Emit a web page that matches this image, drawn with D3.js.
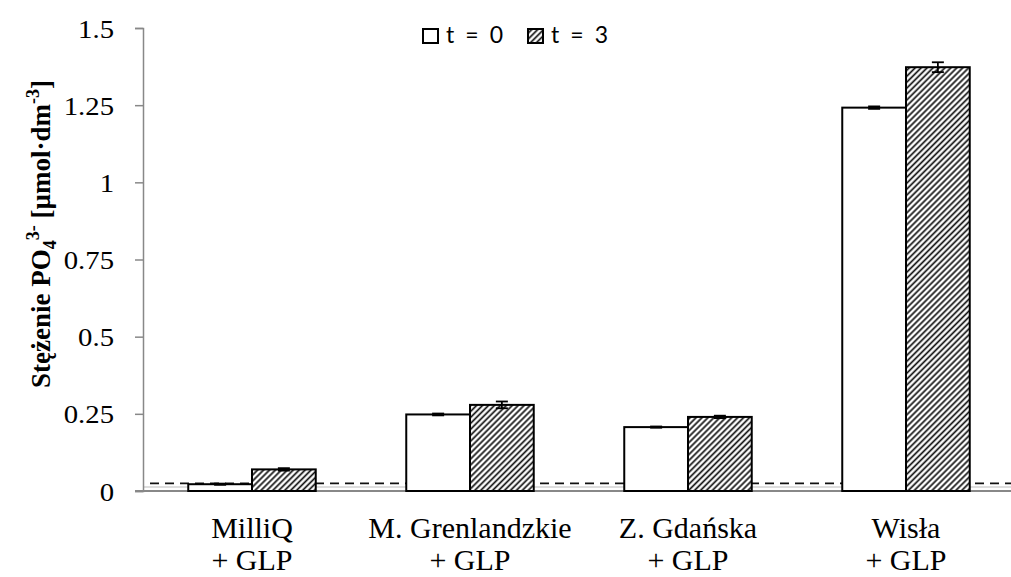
<!DOCTYPE html>
<html><head><meta charset="utf-8">
<script src="https://cdn.jsdelivr.net/npm/d3@7"></script>
<style>body{margin:0;background:#fff}svg{display:block}</style>
</head><body>
<script>
const categories = [["MilliQ","+ GLP"],["M. Grenlandzkie","+ GLP"],["Z. Gdańska","+ GLP"],["Wisła","+ GLP"]];
const seriesNames = ["t = 0","t = 3"];
const valuesT0 = [0.022, 0.248, 0.207, 1.242];
const valuesT3 = [0.070, 0.279, 0.240, 1.373];
const errT0 = [0.002, 0.003, 0.002, 0.004];
const errT3 = [0.004, 0.011, 0.004, 0.016];
const yTicks = [0, 0.25, 0.5, 0.75, 1, 1.25, 1.5];
const yTickLabels = ["0","0.25","0.5","0.75","1","1.25","1.5"];
const detectionLimit = 0.025;

const SERIF = "'Liberation Serif', 'Times New Roman', Times, serif";
const W = 1011, H = 577;
const svg = d3.select("body").append("svg").attr("width", W).attr("height", H);
const defs = svg.append("defs");
const P = 4.2;
const pat = defs.append("pattern").attr("id","hatch").attr("patternUnits","userSpaceOnUse")
  .attr("width",P).attr("height",P).attr("patternTransform","rotate(45)");
pat.append("rect").attr("width",P).attr("height",P).attr("fill","#fff");
pat.append("line").attr("x1",P/2).attr("y1",0).attr("x2",P/2).attr("y2",P).attr("stroke","#111").attr("stroke-width",1.7);

const x0 = d3.scaleBand().domain(d3.range(categories.length)).range([143, 1015]).paddingInner(0).paddingOuter(0);
const x1 = d3.scaleBand().domain([0,1]).range([0, x0.bandwidth()]).paddingInner(0).paddingOuter(0.71);
const y = d3.scaleLinear().domain([0, 1.5]).range([491, 28]);

// baseline
svg.append("line").attr("x1",143).attr("x2",W).attr("y1",487).attr("y2",487).attr("stroke","#bbb").attr("stroke-width",1.2);
svg.append("line").attr("x1",135).attr("x2",W).attr("y1",491).attr("y2",491).attr("stroke","#888").attr("stroke-width",2);

// y axis
const yAxis = d3.axisLeft(y).tickValues(yTicks).tickFormat((d,i)=>yTickLabels[i]).tickSize(8).tickPadding(21);
const ga = svg.append("g").attr("transform","translate(143,0)").call(yAxis);
ga.attr("font-family", SERIF).attr("font-size", 25);
ga.select(".domain").attr("stroke","#888").attr("stroke-width",1.5);
ga.selectAll(".tick line").attr("stroke","#888").attr("stroke-width",1.5);
ga.selectAll(".tick text").style("font-family", SERIF).style("font-size","25px").attr("fill","#000")
  .attr("dy","0.36em")
  .attr("transform","translate(-29,0) scale(1.15,1) translate(29,0)");

// dashed detection line
svg.append("line").attr("x1",150).attr("x2",W).attr("y1",y(detectionLimit)).attr("y2",y(detectionLimit))
  .attr("stroke","#111").attr("stroke-width",1.8).attr("stroke-dasharray","9,6");

// bars
const data = [];
categories.forEach((c,i)=>{
  data.push({cat:i, s:0, v:valuesT0[i], e:errT0[i]});
  data.push({cat:i, s:1, v:valuesT3[i], e:errT3[i]});
});
const bars = svg.append("g");
bars.selectAll("rect").data(data).join("rect")
  .attr("x", d=>x0(d.cat)+x1(d.s))
  .attr("y", d=>y(d.v))
  .attr("width", x1.bandwidth())
  .attr("height", d=>y(0)-y(d.v))
  .attr("fill", d=>d.s===0 ? "#fff" : "url(#hatch)")
  .attr("stroke","#000").attr("stroke-width",2);

// error bars
const eb = svg.append("g").attr("stroke","#000").attr("stroke-width",1.8);
data.forEach(d=>{
  const cx = x0(d.cat)+x1(d.s)+x1.bandwidth()/2;
  eb.append("line").attr("x1",cx).attr("x2",cx).attr("y1",y(d.v+d.e)).attr("y2",y(d.v-d.e));
  eb.append("line").attr("x1",cx-6).attr("x2",cx+6).attr("y1",y(d.v+d.e)).attr("y2",y(d.v+d.e));
  eb.append("line").attr("x1",cx-6).attr("x2",cx+6).attr("y1",y(d.v-d.e)).attr("y2",y(d.v-d.e));
});

// x labels
categories.forEach((c,i)=>{
  const cx = x0(i)+x0.bandwidth()/2;
  const t = svg.append("text").attr("text-anchor","middle")
    .style("font-family",SERIF).style("font-size","30px").attr("fill","#000");
  t.append("tspan").attr("x",cx).attr("y",538).text(c[0]);
  t.append("tspan").attr("x",cx).attr("y",570).text(c[1]);
});

// y title
const yt = svg.append("text").attr("transform","translate(50,234) rotate(-90)").attr("text-anchor","middle")
  .style("font-family",SERIF).style("font-size","27px").attr("font-weight","bold").attr("fill","#000");
yt.append("tspan").text("Stężenie PO");
yt.append("tspan").style("font-size","18px").attr("dy",6).text("4");
yt.append("tspan").style("font-size","18px").attr("dy",-17).text("3-");
yt.append("tspan").attr("dy",11).text(" [µmol·dm");
yt.append("tspan").style("font-size","18px").attr("dy",-11).text("-3");
yt.append("tspan").attr("dy",11).text("]");

// legend
const lg = svg.append("g");
const legendX = [423, 528];
seriesNames.forEach((n,i)=>{
  lg.append("rect").attr("x",legendX[i]).attr("y",29).attr("width",15).attr("height",14)
    .attr("fill", i===0 ? "#fff" : "url(#hatch)").attr("stroke","#000").attr("stroke-width",2);
  lg.append("text").attr("x",legendX[i]+23).attr("y",43).style("font-family","Lato, 'Open Sans', sans-serif")
    .style("font-size","23px").attr("fill","#000")
    .attr("textLength",57).attr("lengthAdjust","spacing").text(n);
});
</script>
</body></html>
